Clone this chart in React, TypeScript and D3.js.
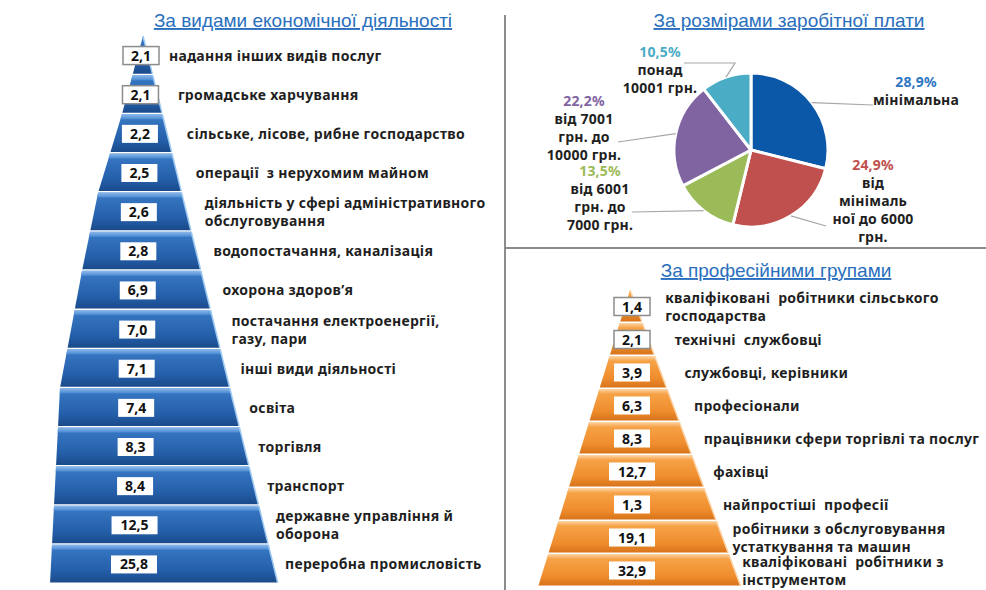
import React from "react";
import * as d3 from "d3";

// --- data ---
const activityLabels = [
  ["надання інших видів послуг"],
  ["громадське харчування"],
  ["сільське, лісове, рибне господарство"],
  ["операції  з нерухомим майном"],
  ["діяльність у сфері адміністративного", "обслуговування"],
  ["водопостачання, каналізація"],
  ["охорона здоров’я"],
  ["постачання електроенергії,", "газу, пари"],
  ["інші види діяльності"],
  ["освіта"],
  ["торгівля"],
  ["транспорт"],
  ["державне управління й", "оборона"],
  ["переробна промисловість"],
];
const activityValues = [2.1, 2.1, 2.2, 2.5, 2.6, 2.8, 6.9, 7.0, 7.1, 7.4, 8.3, 8.4, 12.5, 25.8];

const salaryLabels = [
  ["мінімальна"],
  ["від", "мінімаль", "ної до 6000", "грн."],
  ["від 6001", "грн. до", "7000 грн."],
  ["від 7001", "грн. до", "10000 грн."],
  ["понад", "10001 грн."],
];
const salaryShares = [28.9, 24.9, 13.5, 22.2, 10.5];

const professionLabels = [
  ["кваліфіковані  робітники сільського", "господарства"],
  ["технічні  службовці"],
  ["службовці, керівники"],
  ["професіонали"],
  ["працівники сфери торгівлі та послуг"],
  ["фахівці"],
  ["найпростіші  професії"],
  ["робітники з обслуговування", "устаткування та машин"],
  ["кваліфіковані  робітники з", "інструментом"],
];
const professionValues = [1.4, 2.1, 3.9, 6.3, 8.3, 12.7, 1.3, 19.1, 32.9];

const titles = ["За видами економічної діяльності", "За розмірами заробітної плати", "За професійними групами"];

// --- styles ---
const FONT = "'Noto Sans', 'DejaVu Sans', sans-serif";
const TITLE_FONT = "'Liberation Sans Narrow', 'Liberation Sans', sans-serif";
const TEXT = "#1f1f1f";
const TITLE_BLUE = "#2a6fbd";
const sliceColors = ["#0b58a8", "#c0504d", "#9bbb59", "#8064a2", "#4bacc6"];
const pctColors = ["#2f76c2", "#c0504d", "#9bbb59", "#8064a2", "#4bacc6"];

const fmt = d3.formatLocale({ decimal: ",", thousands: " ", grouping: [3], currency: ["", ""] }).format(".1f");

function Pyramid({ values, labels, y, left, right, boxX, labelX, body, bevel, edge }) {
  const idx = values.map((_, i) => i);
  const bw = y.bandwidth();
  return (
    <g>
      {idx.map((i) => {
        const y0 = y(i);
        const y1 = y0 + bw - 1.5;
        const lt = i === 0 ? (left(y0) + right(y0)) / 2 : left(y0);
        const rt = i === 0 ? lt : right(y0);
        const bvY = y0 + 5;
        const d = `M${lt},${y0}L${rt},${y0}L${right(y1)},${y1}L${left(y1)},${y1}Z`;
        const bv = i === 0 ? null : `M${lt},${y0}L${rt},${y0}L${right(bvY)},${bvY}L${left(bvY)},${bvY}Z`;
        return (
          <g key={i}>
            <path d={d} fill={`url(#${body})`} />
            {bv && <path d={bv} fill={`url(#${bevel})`} />}
            <line x1={rt} y1={y0} x2={right(y1)} y2={y1} stroke={edge} strokeWidth={1.5} />
          </g>
        );
      })}
      {idx.map((i) => {
        const yc = y(i) + bw / 2;
        const txt = fmt(values[i]);
        const w = txt.length > 3 ? 46 : 36;
        const cx = boxX(i);
        const outside = cx - w / 2 < left(yc - 9);
        return (
          <g key={"b" + i}>
            <rect x={cx - w / 2} y={yc - 9} width={w} height={18} fill="#fff"
              stroke={outside ? "#8c8c8c" : "none"} strokeWidth={1.5} />
            <text x={cx} y={yc + 5} textAnchor="middle" fontFamily={FONT} fontWeight={700} fontSize={14} fill="#111">{txt}</text>
          </g>
        );
      })}
      {idx.map((i) => {
        const yc = y(i) + bw / 2;
        const lines = labels[i];
        const start = yc + 5 - ((lines.length - 1) * 18) / 2;
        return (
          <text key={"l" + i} fontFamily={FONT} fontWeight={700} fontSize={14} letterSpacing={0.3} fill={TEXT} style={{ whiteSpace: "pre" }}>
            {lines.map((s, k) => (
              <tspan key={k} x={labelX(yc, i)} y={start + k * 18}>{s}</tspan>
            ))}
          </text>
        );
      })}
    </g>
  );
}

export default function App() {
  // left pyramid
  const yA = d3.scaleBand().domain(activityValues.map((_, i) => i)).range([36, 584]);
  const leftA = d3.scaleLinear().domain([36, 114, 193, 271, 388, 584]).range([143, 122, 98, 82, 60, 50]);
  const rightA = d3.scaleLinear().domain([36, 584]).range([143, 278]);
  const boxA = d3.scaleLinear().domain([0, activityValues.length - 1]).range([141, 134]);
  const labelA = d3.scaleLinear().domain([0, activityValues.length - 1]).range([169, 285]);

  // right pyramid
  const yP = d3.scaleBand().domain(professionValues.map((_, i) => i)).range([290, 587]);
  const leftP = d3.scaleLinear().domain([290, 587]).range([630, 538]);
  const rightP = d3.scaleLinear().domain([290, 587]).range([630, 741]);
  const boxP = () => 632;
  const labelP = d3.scaleLinear().domain([306, 570]).range([665, 742]);

  // pie
  const cx = 751, cy = 150, R = 77;
  const arcs = d3.pie().sort(null).value((d) => d)(salaryShares);
  const arc = d3.arc().innerRadius(0).outerRadius(R);
  const edgePt = (a) => {
    const m = (a.startAngle + a.endAngle) / 2;
    return [cx + Math.sin(m) * R, cy - Math.cos(m) * R];
  };
  const labelPos = [[916, 87], [873, 170], [600, 176], [584, 106], [660, 57]];
  const leaderEnds = [[[873, 105]], [[826, 226]], [[632, 212]], [[618, 142]], [[735, 63], [684, 63]]];

  return (
    <svg width={986} height={590} style={{ position: "absolute", left: 0, top: 0, background: "#fff" }}>
      <defs>
        <linearGradient id="blueBody" x1="0" y1="0" x2="0" y2="1">
          <stop offset="0" stopColor="#4a8ad2" />
          <stop offset="0.15" stopColor="#3574c0" />
          <stop offset="0.7" stopColor="#245ea8" />
          <stop offset="1" stopColor="#1a4a8a" />
        </linearGradient>
        <linearGradient id="blueBevel" x1="0" y1="0" x2="0" y2="1">
          <stop offset="0" stopColor="#8cb9ea" />
          <stop offset="1" stopColor="#4a8ad2" />
        </linearGradient>
        <linearGradient id="orBody" x1="0" y1="0" x2="0" y2="1">
          <stop offset="0" stopColor="#f9b465" />
          <stop offset="0.15" stopColor="#f6a247" />
          <stop offset="0.7" stopColor="#ef8d2d" />
          <stop offset="1" stopColor="#d8731a" />
        </linearGradient>
        <linearGradient id="orBevel" x1="0" y1="0" x2="0" y2="1">
          <stop offset="0" stopColor="#fdd6a6" />
          <stop offset="1" stopColor="#f6a247" />
        </linearGradient>
      </defs>

      {/* dividers */}
      <line x1={505} y1={15} x2={505} y2={590} stroke="#8c8c8c" strokeWidth={2} />
      <line x1={505} y1={248} x2={986} y2={248} stroke="#8c8c8c" strokeWidth={2} />

      {/* titles */}
      {[[303, 27], [789, 27], [776, 277]].map(([x, y], i) => (
        <text key={i} x={x} y={y} textAnchor="middle" fontFamily={TITLE_FONT} fontSize={19} fill={TITLE_BLUE}
          style={{ textDecoration: "underline" }}>{titles[i]}</text>
      ))}

      <Pyramid values={activityValues} labels={activityLabels} y={yA} left={leftA} right={rightA}
        boxX={boxA} labelX={(yc, i) => labelA(i)} body="blueBody" bevel="blueBevel" edge="#9cc8f0" />
      <Pyramid values={professionValues} labels={professionLabels} y={yP} left={leftP} right={rightP}
        boxX={boxP} labelX={(yc) => labelP(yc)} body="orBody" bevel="orBevel" edge="#fbd3a6" />

      {/* pie */}
      <g transform={`translate(${cx},${cy})`}>
        {arcs.map((a, i) => (
          <path key={i} d={arc(a)} fill={sliceColors[i]} stroke="#fff" strokeWidth={3} strokeLinejoin="round" />
        ))}
      </g>
      {arcs.map((a, i) => {
        const pts = [edgePt(a), ...leaderEnds[i]];
        return <polyline key={i} points={pts.map((p) => p.join(",")).join(" ")} fill="none" stroke="#a6a6a6" strokeWidth={1.2} />;
      })}
      {arcs.map((a, i) => {
        const [x, y] = labelPos[i];
        return (
          <text key={i} textAnchor="middle" fontFamily={FONT} fontWeight={700} fontSize={14} letterSpacing={0.2}>
            <tspan x={x} y={y} fill={pctColors[i]}>{fmt(salaryShares[i]) + "%"}</tspan>
            {salaryLabels[i].map((s, k) => (
              <tspan key={k} x={x} y={y + 18 * (k + 1)} fill={TEXT}>{s}</tspan>
            ))}
          </text>
        );
      })}
    </svg>
  );
}
